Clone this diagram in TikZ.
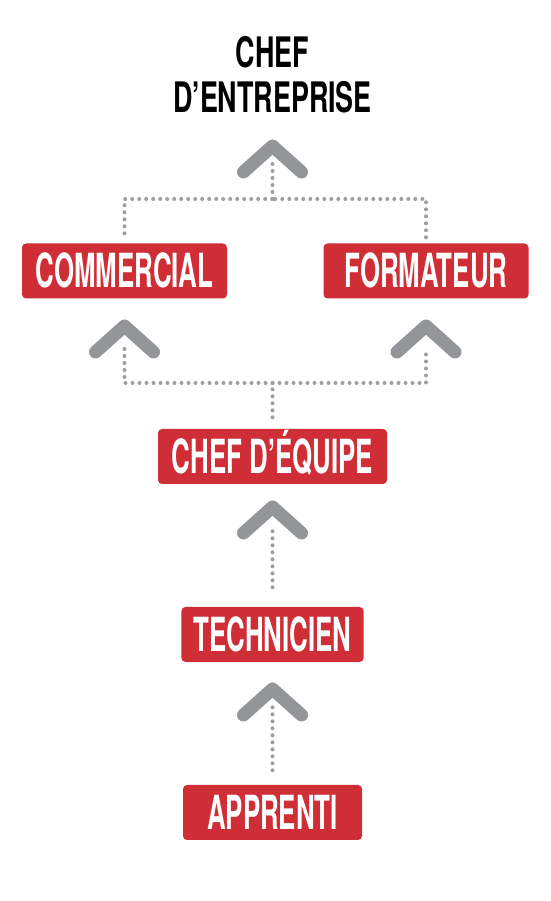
\documentclass[tikz,border=0pt]{standalone}
\usepackage{fontspec}
\newfontfamily\condfont[FakeStretch=0.55]{TeX Gyre Heros}
\newfontfamily\titlefont[FakeStretch=0.64]{TeX Gyre Heros}

\definecolor{boxred}{HTML}{D02E36}
\definecolor{chevgray}{HTML}{939598}
\definecolor{dotgray}{HTML}{9C9EA1}

\begin{document}
\begin{tikzpicture}[box/.style={rectangle, rounded corners=4pt, fill=boxred, text=white, font=\condfont\bfseries\fontsize{47pt}{47pt}\selectfont, minimum height=55pt, inner xsep=12pt, inner ysep=0pt, text height=34pt, text depth=0pt}, title/.style={align=center, inner sep=0pt, font=\titlefont\bfseries\fontsize{42pt}{45pt}\selectfont}, dots/.style={draw=dotgray, line width=4pt, line cap=round, dash pattern=on 0pt off 7pt}, chev/.style={draw=chevgray, line width=13pt, line cap=round, line join=round}]

  \fill[white] (0,0) rectangle (550pt,901pt);
  \useasboundingbox (0,0) rectangle (550pt,901pt);

  \node[box, minimum width=179pt] (apprenti) at (272.5pt,88.5pt) {APPRENTI};
  \node[box, minimum width=179pt, above of=apprenti, node distance=178pt] (technicien) {TECHNICIEN};
  \node[box, minimum width=229pt, above of=technicien, node distance=178pt] (chefeq) {CHEF D’ÉQUIPE};
  \node[box, minimum width=205pt, above of=chefeq, node distance=185.5pt, xshift=-148pt] (commercial) {COMMERCIAL};
  \node[box, minimum width=205pt, above of=chefeq, node distance=185.5pt, xshift=153.5pt] (formateur) {FORMATEUR};

  \coordinate[below of=technicien, node distance=54.5pt] (tipA);
  \coordinate[below of=chefeq, node distance=50.5pt] (tipB);
  \coordinate[below of=commercial, node distance=55pt] (tipL);
  \coordinate[below of=formateur, node distance=55pt] (tipR);
  \coordinate[above of=chefeq, node distance=73.5pt] (fork);
  \coordinate[above of=fork, node distance=184pt] (merge);
  \coordinate[above of=merge, node distance=53pt] (tipT);
  \node[title, above of=tipT, node distance=33pt, anchor=south] (chefent) {CHEF\\D’ENTREPRISE};

  \draw[dots, shorten <=14.5pt, shorten >=16pt] (apprenti) -- (tipA);
  \draw[dots, shorten <=19.5pt, shorten >=18pt] (technicien) -- (tipB);
  \draw[dots, shorten <=11.5pt] (chefeq) -- (fork);
  \draw[dots, shorten >=16pt] (fork) -| (tipL);
  \draw[dots, shorten >=26pt] (fork) -| (tipR);
  \draw[dots, shorten <=10pt] (commercial) |- (merge);
  \draw[dots, shorten <=6pt] (formateur) |- (merge);
  \draw[dots, shorten >=14pt] (merge) -- (tipT);

  \foreach \t in {tipA,tipB,tipL,tipR,tipT}
    \draw[chev] (\t) ++(-29pt,-26pt) -- (\t) -- ++(29pt,-26pt);
\end{tikzpicture}
\end{document}
